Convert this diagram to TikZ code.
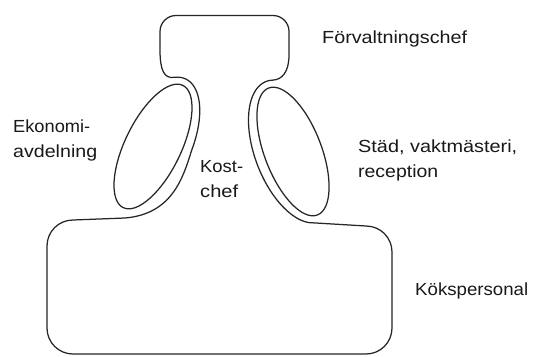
\documentclass[tikz,border=0pt]{standalone}
\usepackage{fontspec}
\setmainfont{Liberation Sans}
\usepackage{graphicx}
\newcommand\fitw[2]{\resizebox{#1pt}{\height}{#2}}
\tikzset{
  outl/.style={draw=black!85, line width=1.25pt, line join=round},
  lbl/.style={font=\fontsize{17.5pt}{24.5pt}\selectfont, text=black!90, inner sep=0pt, anchor=base west, align=left},
}
\begin{document}
\begin{tikzpicture}[x=1pt,y=1pt]
\useasboundingbox (0,0) rectangle (534,-356);
\fill[white] (0,0) rectangle (534,-356);
% outline of the whole figure
\draw[outl] (160,-50) -- (160,-31.5) arc[start angle=180,end angle=90,radius=16] -- (273,-15.5)
  arc[start angle=90,end angle=0,radius=16] -- (289,-55)
  .. controls (289,-72) and (282,-79.7) .. (272.8,-80.1)
  -- plot[domain=170:350, samples=60, variable=\t] ({293+26.85*cos(\t)+35.5*sin(\t)},{-151.5-70.05*cos(\t)+13.6*sin(\t)})
  -- (366,-226) arc[start angle=90,end angle=0,radius=26] -- (392,-328)
  arc[start angle=0,end angle=-90,radius=26] -- (73,-354)
  arc[start angle=270,end angle=180,radius=26] -- (47,-246)
  arc[start angle=180,end angle=90,radius=26] -- (125,-218)
  .. controls (172,-214) and (183,-178) .. (191.5,-150.8)
  -- plot[domain=-80:18, samples=50, variable=\t] ({153+32.85*cos(\t)-33.26*sin(\t)},{-146.5+67.43*cos(\t)+16.2*sin(\t)})
  .. controls (164,-78.7) and (160,-70) .. (160,-50) -- cycle;
% the two ellipses
\draw[outl, rotate around={64:(153,-146.5)}] (153,-146.5) ellipse[x radius=68, y radius=28];
\draw[outl, rotate around={-69:(293,-151.5)}] (293,-151.5) ellipse[x radius=68, y radius=28.5];
% labels (anchor = baseline of the last line)
\node[lbl] (forv) at (322,-43) {\fitw{145}{Förvaltningschef}};
\node[lbl] (ekon) at (13,-157) {\fitw{77}{Ekonomi-}\\\fitw{84}{avdelning}};
\node[lbl] (kost) at (200,-197) {\fitw{43}{Kost-}\\\fitw{38}{chef}};
\node[lbl] (stad) at (358,-177) {\fitw{159}{Städ, vaktmästeri,}\\\fitw{80}{reception}};
\node[lbl] (koks) at (415,-295) {\fitw{113}{Kökspersonal}};
\end{tikzpicture}
\end{document}
